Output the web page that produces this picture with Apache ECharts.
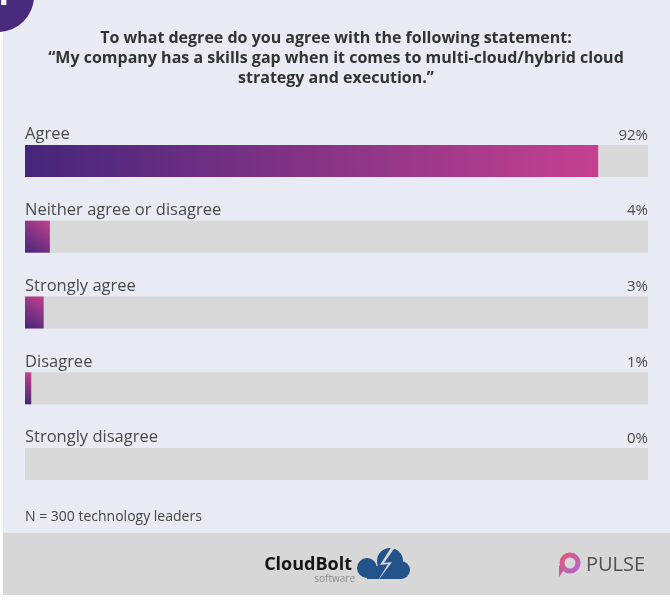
<!DOCTYPE html>
<html>
<head>
<meta charset="utf-8">
<script src="https://cdn.jsdelivr.net/npm/echarts@6/dist/echarts.min.js"></script>
<style>
  html, body { margin: 0; padding: 0; background: #ffffff; }
  #chart { width: 670px; height: 603px; }
</style>
</head>
<body>
<div id="chart"></div>
<script>
// Survey answers and their shares (percent of respondents)
const categories = ['Agree', 'Neither agree or disagree', 'Strongly agree', 'Disagree', 'Strongly disagree'];
const shares = [92, 4, 3, 1, 0];
const fullScale = categories.map(() => 100);

const titleLines = [
  'To what degree do you agree with the following statement:',
  '\u201cMy company has a skills gap when it comes to multi-cloud/hybrid cloud',
  'strategy and execution.\u201d'
];
const noteText = 'N = 300 technology leaders';

const FONT = '"Open Sans"';
const chart = echarts.init(document.getElementById('chart'), null, { renderer: 'canvas' });

const barGradient = new echarts.graphic.LinearGradient(0, 1, 1, 0, [
  { offset: 0, color: '#44267a' },
  { offset: 1, color: '#c5418f' }
]);

const titleGraphics = titleLines.map((line, i) => ({
  type: 'text',
  style: { x: 336, y: 38 + i * 20, text: line, fill: '#333333', font: 'bold 16px ' + FONT, textAlign: 'center', textVerticalAlign: 'middle' }
}));

chart.setOption({
  animation: false,
  textStyle: { fontFamily: FONT },
  graphic: [
    // panel and footer band
    { type: 'rect', z: -10, shape: { x: 3, y: 0, width: 667, height: 533 }, style: { fill: '#e8ebf3' } },
    { type: 'rect', z: -10, shape: { x: 3, y: 533, width: 667, height: 62 }, style: { fill: '#d7d7d7' } },
    // numbered badge in the corner
    { type: 'circle', z: 5, shape: { cx: -2, cy: -4, r: 36 }, style: { fill: '#4a2a7c' } },
    { type: 'text', z: 6, style: { x: 2, y: 12, text: '1', fill: '#ffffff', font: 'bold 34px ' + FONT, textAlign: 'center', textVerticalAlign: 'bottom' } },
    ...titleGraphics,
    // footnote
    { type: 'text', style: { x: 25, y: 517, text: noteText, fill: '#444444', font: '14px ' + FONT, textVerticalAlign: 'middle' } },
    // CloudBolt mark
    { type: 'text', style: { x: 352, y: 565, text: 'CloudBolt', fill: '#151515', font: 'bold 18px ' + FONT, textAlign: 'right', textVerticalAlign: 'middle' } },
    { type: 'text', style: { x: 355, y: 579, text: 'software', fill: '#8a8a8a', font: '10px ' + FONT, textAlign: 'right', textVerticalAlign: 'middle' } },
    { type: 'group', children: [
      { type: 'circle', shape: { cx: 390, cy: 561, r: 13 }, style: { fill: '#24528b' } },
      { type: 'circle', shape: { cx: 367, cy: 568, r: 10 }, style: { fill: '#24528b' } },
      { type: 'circle', shape: { cx: 401, cy: 570, r: 9 }, style: { fill: '#24528b' } },
      { type: 'rect', shape: { x: 367, y: 566, width: 34, height: 13 }, style: { fill: '#24528b' } },
      { type: 'polygon', shape: { points: [[392, 546], [380, 565], [388, 564], [377, 582], [392, 562], [384, 563], [396, 546]] }, style: { fill: '#d7d7d7' } }
    ] },
    // PULSE mark
    { type: 'circle', shape: { cx: 570, cy: 563, r: 8 }, style: { fill: 'none', lineWidth: 5,
      stroke: new echarts.graphic.LinearGradient(0, 0, 1, 1, [{ offset: 0, color: '#e5566e' }, { offset: 1, color: '#a96ad6' }]) } },
    { type: 'polygon', shape: { points: [[559, 565], [564, 570], [559, 577]] }, style: { fill: '#c45f9c' } },
    { type: 'text', style: { x: 586, y: 565, text: 'PULSE', fill: '#505050', font: '20px ' + FONT, textVerticalAlign: 'middle' } }
  ],
  grid: { left: 25, right: 22, top: 123, height: 379 },
  xAxis: { type: 'value', min: 0, max: 100, show: false },
  yAxis: { type: 'category', data: categories, inverse: true, show: false },
  series: [
    {
      name: 'track',
      type: 'bar',
      data: fullScale,
      barWidth: 32,
      barGap: '-100%',
      silent: true,
      itemStyle: { color: '#d8d8d8' },
      label: {
        show: true,
        position: ['100%', -2],
        align: 'right',
        verticalAlign: 'bottom',
        fontFamily: FONT,
        fontSize: 15,
        color: '#4a4a4a',
        formatter: p => shares[p.dataIndex] + '%'
      }
    },
    {
      name: 'share',
      type: 'bar',
      data: shares,
      barWidth: 32,
      barGap: '-100%',
      itemStyle: { color: barGradient },
      label: {
        show: true,
        position: [0, -2],
        align: 'left',
        verticalAlign: 'bottom',
        fontFamily: FONT,
        fontSize: 16.5,
        color: '#4a4a4a',
        formatter: p => p.name
      }
    }
  ]
});
</script>
</body>
</html>
